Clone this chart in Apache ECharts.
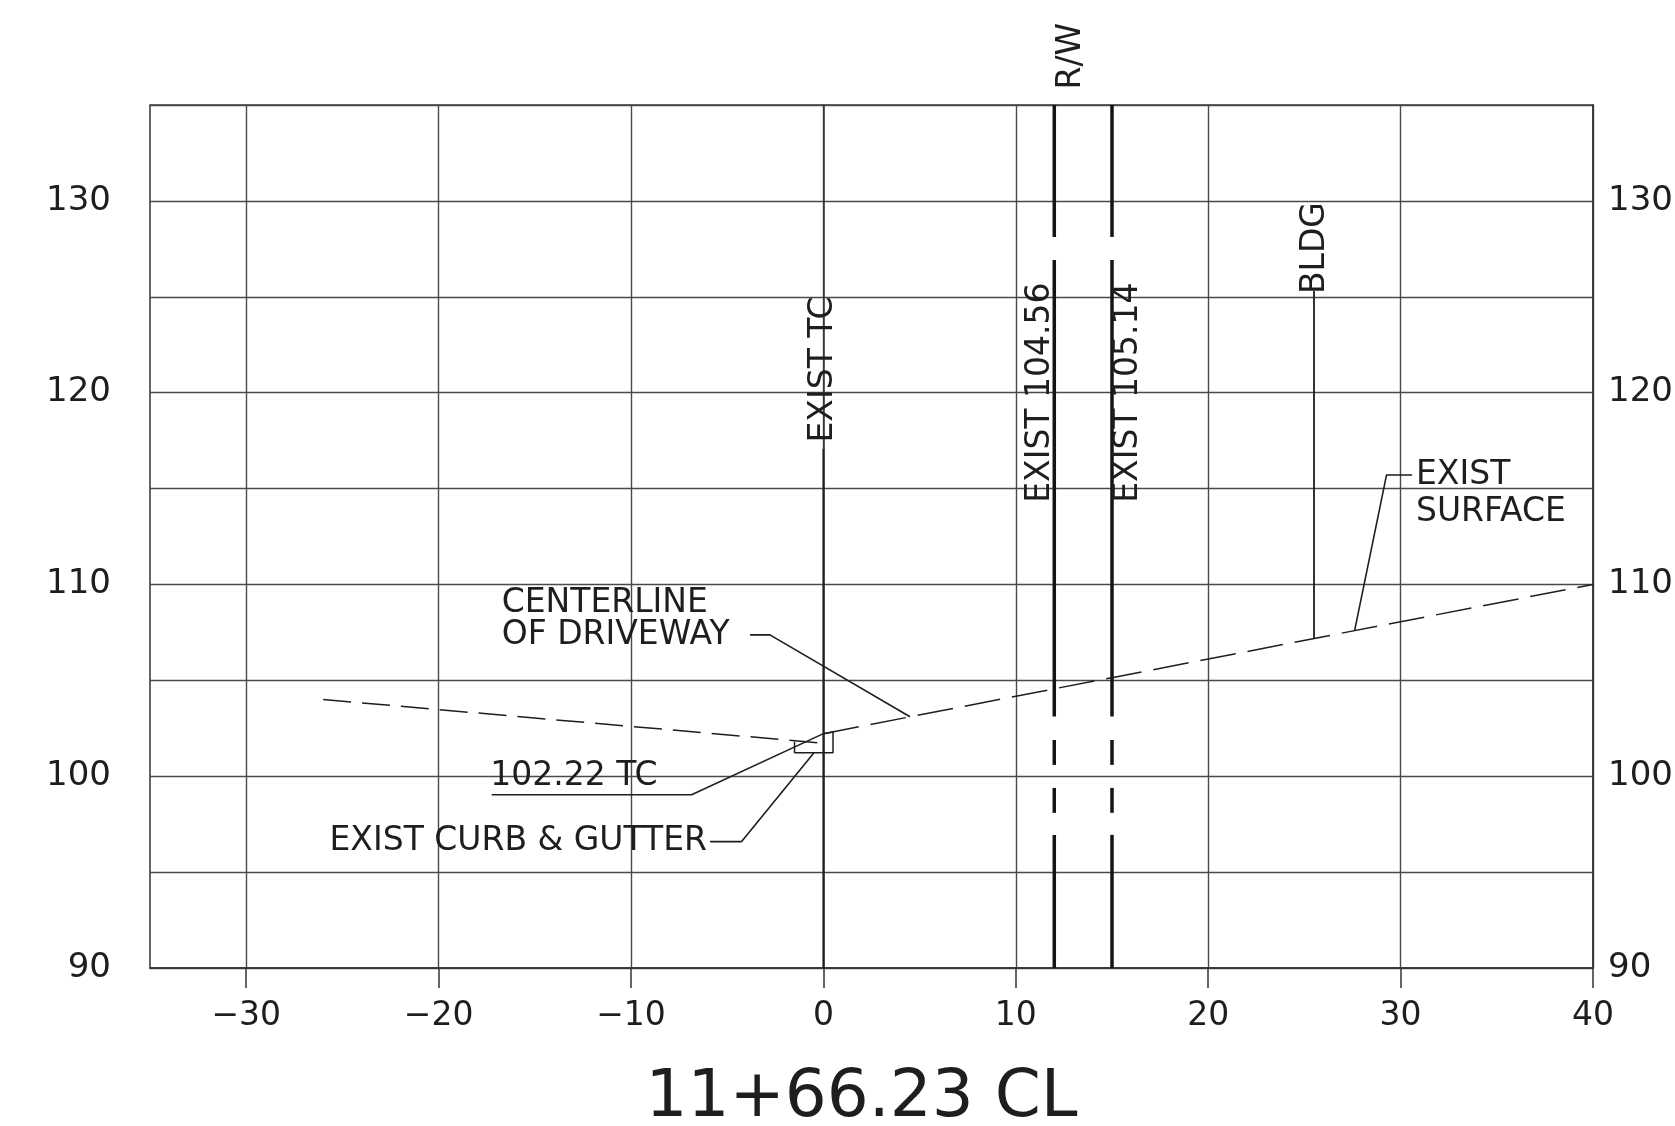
<!DOCTYPE html>
<html>
<head>
<meta charset="utf-8">
<script src="https://cdn.jsdelivr.net/npm/echarts@6/dist/echarts.min.js"></script>
<style>
html,body{margin:0;padding:0;background:#fff;}
#chart{width:1675px;height:1126px;}
</style>
</head>
<body>
<div id="chart"></div>
<script>
// ---- data ----
const xTicks = [-30, -20, -10, 0, 10, 20, 30, 40];
const yTicks = [90, 100, 110, 120, 130];
const axisTitle = '11+66.23 CL';

// existing surface (offset, elevation)
const surfaceLeft = [[-26, 104.0], [0, 101.72]];
const surfaceRight = [[0, 102.22], [12, 104.56], [15, 105.14], [40, 110.0]];
const curbBox = [[-1.5, 101.8], [-1.5, 101.23], [0.5, 101.23], [0.5, 102.3], [0, 102.22]];

// right-of-way / existing lines at offsets 12 and 15: [from, to] elevation pieces
const rwOffsets = [12, 15];
const rwPieces = [[135, 128.12], [126.92, 103.11], [101.89, 100.59], [99.39, 98.09], [96.94, 90]];

const tcLine = [[0, 117.06], [0, 90]];
const bldgLine = [[25.5, 125.3], [25.5, 107.18]];

const leaderDriveway = [[-3.81, 107.37], [-2.78, 107.37], [4.5, 103.1]];
const leaderTC = [[-17.24, 99.03], [-6.85, 99.03], [0, 102.22]];
const leaderCurb = [[-5.89, 96.59], [-4.25, 96.59], [-0.5, 101.21]];
const leaderSurface = [[30.6, 115.71], [29.27, 115.71], [27.61, 107.59]];

// annotation texts: [x, y, text, rotate, align]
const notes = [
  [-16.72, 109.02, 'CENTERLINE', 0, 'left'],
  [-16.72, 107.35, 'OF DRIVEWAY', 0, 'left'],
  [-17.31, 100.0, '102.22 TC', 0, 'left'],
  [-6.05, 96.58, 'EXIST CURB & GUTTER', 0, 'right'],
  [30.8, 115.66, 'EXIST', 0, 'left'],
  [30.8, 113.74, 'SURFACE', 0, 'left'],
  [0, 121.21, 'EXIST TC', 90, 'center'],
  [11.26, 120.0, 'EXIST 104.56', 90, 'center'],
  [15.83, 120.0, 'EXIST 105.14', 90, 'center'],
  [25.58, 127.54, 'BLDG', 90, 'center'],
  [12.87, 137.55, 'R/W', 90, 'center']
];

// ---- chart ----
const FONT = 'DejaVu Sans';
const INK = '#1e1e1e';
const GRIDC = '#4a4a4a';
const chart = echarts.init(document.getElementById('chart'));

function lineSeries(data, opts) {
  opts = opts || {};
  return {
    type: 'line', data: data, symbol: 'none', silent: true, animation: false,
    clip: false, z: opts.z || 3,
    lineStyle: { color: opts.color || INK, width: opts.width || 1.5, type: opts.type || 'solid', cap: 'butt', opacity: 1 }
  };
}

const series = [];
series.push(lineSeries(surfaceLeft, { type: [28, 11] }));
series.push(lineSeries(surfaceRight, { type: [36, 12] }));
series.push(lineSeries(curbBox, { width: 1.5 }));
rwOffsets.forEach(function (x) {
  rwPieces.forEach(function (p) {
    series.push(lineSeries([[x, p[0]], [x, p[1]]], { width: 3.5, color: '#141414', z: 4 }));
  });
});
series.push(lineSeries(tcLine, { width: 1.8 }));
series.push(lineSeries(bldgLine, { width: 1.8 }));
[leaderDriveway, leaderTC, leaderCurb, leaderSurface].forEach(function (l) {
  series.push(lineSeries(l, { width: 1.6 }));
});

notes.forEach(function (n) {
  series.push({
    type: 'scatter', silent: true, animation: false, clip: false, z: 6,
    symbolSize: 1, itemStyle: { color: 'rgba(0,0,0,0)', opacity: 1 },
    data: [[n[0], n[1]]],
    label: {
      show: true, position: 'inside', formatter: n[2], rotate: n[3],
      align: n[4], verticalAlign: 'middle', opacity: 1,
      fontFamily: FONT, fontSize: 33, color: INK
    }
  });
});

const minusFmt = function (v) { return String(v).replace('-', '\u2212'); };

chart.setOption({
  backgroundColor: '#ffffff',
  animation: false,
  grid: {
    left: 150, right: 82, top: 105, bottom: 158, containLabel: false, outerBoundsMode: 'none',
    show: true, borderColor: '#333', borderWidth: 1.5
  },
  xAxis: {
    type: 'value', min: -35, max: 40, interval: 5,
    name: axisTitle, nameLocation: 'middle', nameGap: 98,
    nameTextStyle: { fontFamily: FONT, fontSize: 66, color: INK, padding: [0, 20, 0, 0] },
    axisLine: { show: true, lineStyle: { color: '#333', width: 1.5 } },
    axisTick: { show: true, customValues: xTicks, length: 20, inside: false, lineStyle: { color: '#333', width: 1.5 } },
    axisLabel: { customValues: xTicks, formatter: minusFmt, margin: 32, fontFamily: FONT, fontSize: 33, color: INK },
    splitLine: { show: true, lineStyle: { color: GRIDC, width: 1.4 } }
  },
  yAxis: [
    {
      type: 'value', min: 90, max: 135, interval: 5, position: 'left',
      axisLine: { show: true, lineStyle: { color: '#333', width: 1.5 } },
      axisTick: { show: false },
      axisLabel: { customValues: yTicks, margin: 39, fontFamily: FONT, fontSize: 34, color: INK },
      splitLine: { show: true, lineStyle: { color: GRIDC, width: 1.4 } }
    },
    {
      type: 'value', min: 90, max: 135, interval: 5, position: 'right',
      axisLine: { show: true, lineStyle: { color: '#333', width: 1.5 } },
      axisTick: { show: false },
      axisLabel: { customValues: yTicks, margin: 15, fontFamily: FONT, fontSize: 34, color: INK },
      splitLine: { show: false }
    }
  ],
  series: series
});
</script>
</body>
</html>
